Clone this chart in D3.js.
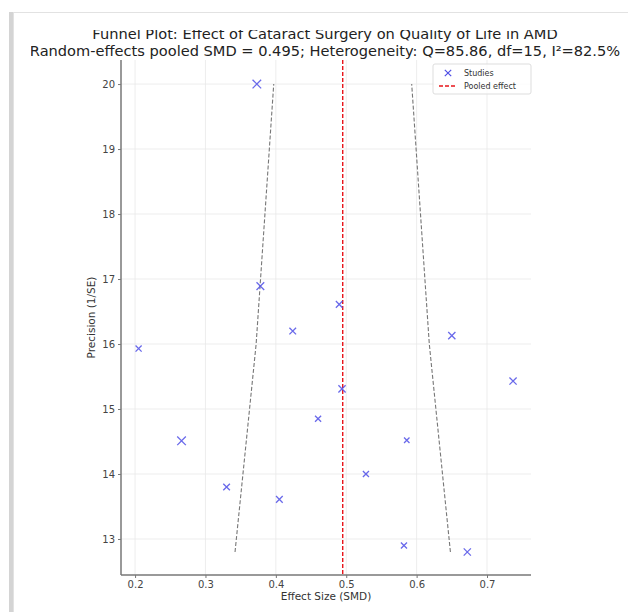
<!DOCTYPE html>
<html lang="en">
<head>
	<meta charset="utf-8">
	<title>Funnel Plot</title>
	<script src="https://d3js.org/d3.v7.min.js"></script>
	<style>
		body{ margin:0; background:#fff; }
		.axis text{ font: 10px 'DejaVu Sans', sans-serif; fill:#444; }
		.axis path, .axis line{ stroke:#777; }
	</style>
</head>
<body>
	<script>
		// Study data
		var effect    = [0.373, 0.378, 0.490, 0.424, 0.650, 0.205, 0.737, 0.494, 0.460, 0.266, 0.586, 0.528, 0.330, 0.405, 0.582, 0.672];
		var precision = [20.00, 16.89, 16.61, 16.20, 16.13, 15.93, 15.43, 15.31, 14.85, 14.51, 14.52, 14.00, 13.80, 13.61, 12.90, 12.80];
		var weight    = [10, 8, 6, 6, 7, 5, 7, 7, 5, 10, 4, 5, 6, 6, 5, 7];

		var pooled = 0.495;
		// funnel limits
		var funnelPrecision = [12.8, 16.0, 20.0];
		var funnelLower     = [0.342, 0.372, 0.397];
		var funnelUpper     = [0.648, 0.618, 0.593];

		var xTicks = [0.2, 0.3, 0.4, 0.5, 0.6, 0.7];
		var yTicks = [13, 14, 15, 16, 17, 18, 19, 20];

		var titleLines = ["Funnel Plot: Effect of Cataract Surgery on Quality of Life in AMD",
			"Random-effects pooled SMD = 0.495; Heterogeneity: Q=85.86, df=15, I\u00b2=82.5%"];

		var w = 628, h = 612;
		var plotLeft = 121, plotRight = 531, plotTop = 60, plotBottom = 575;

		var svg = d3.select("body").append("svg")
			.attr("width", w)
			.attr("height", h);

		// card frame
		svg.append("rect")
			.attr("x", 9).attr("y", 12).attr("width", 5).attr("height", h)
			.attr("fill", "#d4d4d4");
		svg.append("rect")
			.attr("x", 13.5).attr("y", 12.5).attr("width", w).attr("height", h)
			.attr("fill", "#fff").attr("stroke", "#e2e2e2");

		svg.append("clipPath").attr("id", "content")
			.append("rect").attr("x", 31).attr("y", 30).attr("width", w - 31).attr("height", 572);

		var g = svg.append("g").attr("clip-path", "url(#content)");

		var xScale = d3.scaleLinear().domain([0.180, 0.7625]).range([plotLeft, plotRight]);
		var yScale = d3.scaleLinear().domain([12.446, 20.37]).range([plotBottom, plotTop]);

		// grid
		g.append("g").selectAll("line").data(xTicks).enter().append("line")
			.attr("x1", function(d){ return xScale(d); }).attr("x2", function(d){ return xScale(d); })
			.attr("y1", plotTop).attr("y2", plotBottom)
			.attr("stroke", "#e8e8e8").attr("stroke-width", 0.8);
		g.append("g").selectAll("line").data(yTicks).enter().append("line")
			.attr("y1", function(d){ return yScale(d); }).attr("y2", function(d){ return yScale(d); })
			.attr("x1", plotLeft).attr("x2", plotRight)
			.attr("stroke", "#e8e8e8").attr("stroke-width", 0.8);

		// axes
		var xAxis = d3.axisBottom(xScale).tickValues(xTicks).tickSize(3).tickPadding(3).tickFormat(d3.format(".1f"));
		var yAxis = d3.axisLeft(yScale).tickValues(yTicks).tickSize(3).tickPadding(3);

		var gx = g.append("g").attr("class", "axis")
			.attr("transform", "translate(0," + plotBottom + ")")
			.call(xAxis);
		gx.select(".domain").remove();
		g.append("line").attr("x1", plotLeft).attr("x2", plotRight).attr("y1", plotBottom).attr("y2", plotBottom)
			.attr("stroke", "#777").attr("stroke-width", 1.5);

		var gy = g.append("g").attr("class", "axis")
			.attr("transform", "translate(" + plotLeft + ",0)")
			.call(yAxis);
		gy.select(".domain").remove();
		g.append("line").attr("x1", plotLeft).attr("x2", plotLeft).attr("y1", plotTop).attr("y2", plotBottom)
			.attr("stroke", "#777").attr("stroke-width", 1.5);

		// funnel lines
		var funnelLine = function(xs){
			return d3.line()
				.x(function(d, i){ return xScale(xs[i]); })
				.y(function(d){ return yScale(d); })(funnelPrecision);
		};
		[funnelLower, funnelUpper].forEach(function(xs){
			g.append("path")
				.attr("d", funnelLine(xs))
				.attr("fill", "none")
				.attr("stroke", "#777")
				.attr("stroke-width", 1.1)
				.attr("stroke-dasharray", "4,2");
		});

		// pooled effect line
		g.append("line")
			.attr("x1", xScale(pooled)).attr("x2", xScale(pooled))
			.attr("y1", plotTop).attr("y2", plotBottom)
			.attr("stroke", "#e8141a")
			.attr("stroke-width", 1.4)
			.attr("stroke-dasharray", "4,2");

		// study markers
		var sizeScale = d3.scaleSqrt().domain([0, 10]).range([0, 4.3]);
		var cross = function(s){
			return "M" + (-s) + "," + (-s) + "L" + s + "," + s + "M" + (-s) + "," + s + "L" + s + "," + (-s);
		};
		g.append("g").selectAll("path").data(effect).enter().append("path")
			.attr("transform", function(d, i){ return "translate(" + xScale(d) + "," + yScale(precision[i]) + ")"; })
			.attr("d", function(d, i){ return cross(sizeScale(weight[i])); })
			.attr("stroke", "#4f4fe6")
			.attr("stroke-opacity", 0.85)
			.attr("stroke-width", 1.3)
			.attr("fill", "none");

		// legend
		var lg = g.append("g").attr("transform", "translate(433,64)");
		lg.append("rect").attr("width", 98).attr("height", 30).attr("rx", 2)
			.attr("fill", "#fff").attr("fill-opacity", 0.8).attr("stroke", "#ddd");
		lg.append("path").attr("transform", "translate(15,9)").attr("d", cross(3.2))
			.attr("stroke", "#4f4fe6").attr("stroke-width", 1.2).attr("fill", "none");
		lg.append("line").attr("x1", 6).attr("x2", 24).attr("y1", 22).attr("y2", 22)
			.attr("stroke", "#e8141a").attr("stroke-width", 1.4).attr("stroke-dasharray", "4,2");
		lg.selectAll("text").data(["Studies", "Pooled effect"]).enter().append("text")
			.attr("x", 31).attr("y", function(d, i){ return 12 + i * 13; })
			.attr("font-family", "'DejaVu Sans', sans-serif")
			.attr("font-size", 8).attr("fill", "#333")
			.text(function(d){ return d; });

		// axis labels
		g.append("text")
			.attr("text-anchor", "middle")
			.attr("transform", "translate(" + ((plotLeft + plotRight) / 2) + ",600)")
			.attr("font-family", "'DejaVu Sans', sans-serif")
			.attr("font-size", 10.5).attr("fill", "#333")
			.text("Effect Size (SMD)");
		g.append("text")
			.attr("text-anchor", "middle")
			.attr("transform", "translate(95," + ((plotTop + plotBottom) / 2) + ") rotate(-90)")
			.attr("font-family", "'DejaVu Sans', sans-serif")
			.attr("font-size", 10.5).attr("fill", "#333")
			.text("Precision (1/SE)");

		// title
		g.selectAll(".title").data(titleLines).enter().append("text")
			.attr("class", "title")
			.attr("text-anchor", "middle")
			.attr("x", 325)
			.attr("y", function(d, i){ return 39 + i * 16.5; })
			.attr("font-family", "'DejaVu Sans', sans-serif")
			.attr("font-size", 14.6).attr("fill", "#222")
			.text(function(d){ return d; });
	</script>
</body>
</html>
